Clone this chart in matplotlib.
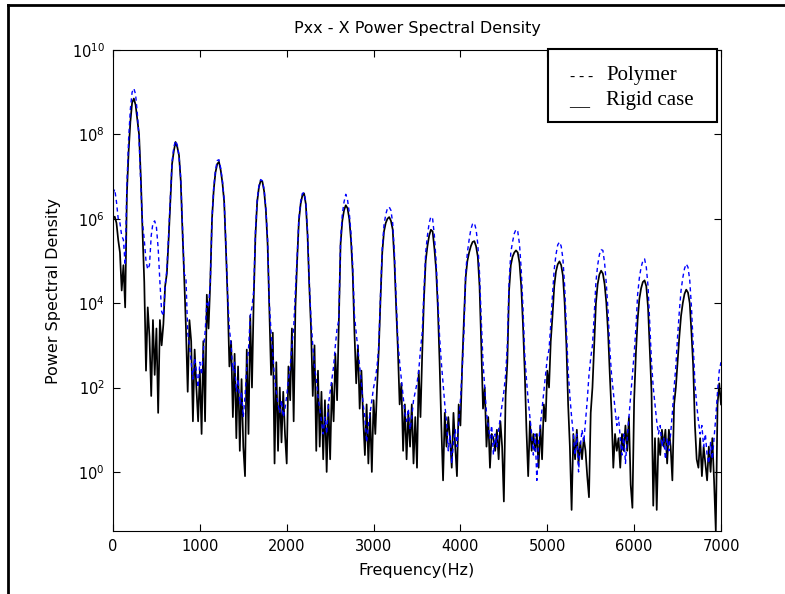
import numpy as np
import matplotlib.pyplot as plt
from matplotlib.ticker import NullLocator
from matplotlib.lines import Line2D

# PSD bins every 20 Hz, 0 .. 7000 Hz
freq_hz = np.arange(0, 7001, 20)

# log10 of the PSD, ten bins (200 Hz) per row
rigid_log = [
    6.0, 6.05, 5.9, 5.5, 5.2, 4.3, 4.9, 3.9, 6.6, 7.6,
    8.3, 8.75, 8.85, 8.7, 8.35, 8.0, 7.0, 5.7, 4.5, 2.4,
    3.9, 3.2, 1.8, 3.6, 2.3, 3.4, 1.4, 3.6, 3.0, 3.5,
    4.4, 4.7, 5.5, 6.4, 7.3, 7.6, 7.82, 7.7, 7.5, 6.9,
    5.7, 4.6, 3.4, 1.9, 3.6, 3.1, 1.2, 2.9, 2.0, 1.2,
    2.4, 0.9, 3.1, 1.2, 4.2, 3.4, 4.5, 6.0, 6.7, 7.1,
    7.3, 7.35, 7.15, 6.85, 6.4, 5.3, 4.1, 2.5, 3.1, 1.3,
    2.8, 0.8, 2.5, 0.5, 2.2, 0.6, -0.1, 2.9, 0.9, 3.7,
    2.0, 4.1, 5.6, 6.4, 6.75, 6.9, 6.88, 6.65, 6.2, 5.4,
    3.8, 2.3, 3.3, 0.2, 2.6, 0.5, 2.0, 0.7, 1.9, 0.9,
    0.2, 2.5, 1.7, 3.4, 1.2, 3.9, 5.0, 5.95, 6.35, 6.55,
    6.6, 6.35, 5.6, 4.4, 3.4, 1.8, 3.0, 0.5, 2.4, 0.6,
    1.9, 0.3, 1.7, 0.0, 1.6, 0.3, 2.1, 1.2, 2.8, 1.7,
    3.5, 5.4, 5.95, 6.2, 6.32, 6.25, 6.0, 5.5, 4.7, 3.3,
    2.1, 3.0, 1.5, 2.4, 1.3, 0.4, 1.6, 0.2, 1.4, 0.0,
    1.7, 0.9, 2.0, 2.9, 4.1, 5.2, 5.7, 5.9, 6.0, 6.04,
    5.95, 5.75, 5.0, 3.9, 2.9, 1.6, 2.1, 0.5, 1.6, 0.3,
    1.4, 0.6, 1.6, 0.2, 1.3, 0.1, 2.4, 1.3, 2.8, 4.1,
    5.0, 5.35, 5.6, 5.74, 5.7, 5.3, 4.8, 3.9, 2.6, 1.1,
    -0.2, 1.4, 0.6, 1.3, 0.8, 0.1, 1.4, 0.6, -0.1, 1.6,
    1.1, 2.5, 3.6, 4.6, 5.0, 5.2, 5.35, 5.45, 5.47, 5.35,
    5.1, 4.4, 3.0, 1.5, 2.0, 0.6, 1.3, 0.1, 0.9, 0.8,
    0.5, 1.0, 0.3, 1.2, 0.6, -0.7, 1.8, 2.6, 4.3, 4.9,
    5.1, 5.2, 5.25, 5.2, 4.95, 4.4, 3.5, 2.4, 1.0, -0.1,
    1.2, 0.5, 0.9, 0.5, 0.9, 0.1, 1.1, 0.3, 1.6, 1.2,
    2.4, 2.0, 3.1, 3.7, 4.4, 4.75, 4.92, 4.99, 4.9, 4.65,
    4.0, 3.0, 1.6, 0.6, -0.9, 0.9, 0.3, 1.0, 0.2, 0.7,
    0.3, 0.8, 0.5, -0.1, -0.6, 1.4, 2.0, 3.0, 4.0, 4.45,
    4.68, 4.77, 4.7, 4.45, 4.0, 3.3, 2.3, 1.4, 0.1, 0.9,
    0.5, 0.8, 0.1, 0.9, 0.5, 1.1, 0.5, 1.3, -0.3, -0.85,
    1.7, 2.8, 3.6, 4.1, 4.35, 4.5, 4.54, 4.4, 3.9, 2.9,
    1.9, -0.8, 0.8, -0.9, 0.8, 0.4, 1.0, 0.6, 1.0, 0.2,
    1.0, 0.6, -0.2, 1.6, 2.0, 2.6, 3.2, 3.7, 4.0, 4.22,
    4.32, 4.25, 4.0, 3.3, 2.5, 1.1, 0.3, 0.1, 0.8, -0.1,
    0.6, 0.2, -0.2, 0.6, 0.0, 0.8, -0.2, -1.4, 1.6, 2.1,
    1.6,
]

polymer_log = [
    6.6, 6.7, 6.4, 6.0, 5.9, 5.6, 5.5, 4.9, 6.8, 7.9,
    8.6, 9.0, 9.09, 8.95, 8.5, 7.9, 6.8, 5.9, 5.5, 5.0,
    4.8, 4.9, 5.6, 5.9, 5.95, 5.8, 5.3, 4.5, 3.8, 3.7,
    4.4, 4.8, 5.6, 6.5, 7.35, 7.7, 7.85, 7.75, 7.5, 6.95,
    5.8, 4.7, 4.6, 3.3, 3.0, 2.6, 2.2, 2.7, 2.4, 2.0,
    2.6, 2.3, 2.9, 3.3, 4.0, 3.9, 4.5, 6.0, 6.75, 7.15,
    7.38, 7.4, 7.2, 6.9, 6.45, 5.4, 4.2, 3.4, 3.0, 2.4,
    2.6, 1.9, 2.2, 1.6, 1.9, 1.3, 1.8, 2.5, 2.9, 3.7,
    3.9, 4.3, 5.7, 6.45, 6.78, 6.93, 6.9, 6.7, 6.25, 5.5,
    4.0, 3.3, 2.8, 2.2, 1.9, 1.6, 1.4, 1.7, 1.3, 1.5,
    1.8, 2.2, 2.5, 3.0, 3.4, 4.3, 5.1, 6.0, 6.4, 6.6,
    6.62, 6.4, 5.7, 4.5, 3.6, 3.0, 2.5, 2.2, 1.8, 1.5,
    1.2, 0.9, 1.3, 0.9, 1.6, 1.9, 2.2, 2.5, 3.0, 3.4,
    3.6, 5.5, 6.1, 6.4, 6.58, 6.45, 6.15, 5.65, 4.9, 3.7,
    3.3, 2.9, 2.5, 2.1, 1.6, 1.3, 0.7, 1.1, 1.4, 1.7,
    2.0, 2.2, 2.5, 3.0, 4.2, 5.3, 5.85, 6.1, 6.25, 6.28,
    6.2, 5.9, 5.2, 4.1, 3.1, 2.6, 2.2, 1.8, 1.4, 1.2,
    1.5, 1.0, 1.3, 1.7, 1.9, 2.1, 2.4, 2.9, 3.3, 4.3,
    5.2, 5.6, 5.9, 6.05, 6.0, 5.6, 5.0, 4.1, 3.2, 2.6,
    2.1, 1.6, 1.2, 0.5, 0.9, 0.2, 0.7, 1.0, 0.6, 1.2,
    1.7, 2.4, 3.3, 4.7, 5.2, 5.5, 5.75, 5.88, 5.9, 5.75,
    5.4, 4.7, 3.6, 2.6, 2.0, 1.4, 1.1, 0.8, 1.1, 0.4,
    0.9, 0.6, 1.0, 1.3, 1.6, 1.9, 2.3, 3.0, 4.5, 5.2,
    5.45, 5.65, 5.75, 5.7, 5.4, 4.8, 3.9, 2.8, 2.2, 1.7,
    1.3, 0.9, 0.4, 0.9, -0.2, 0.7, 1.1, 1.5, 1.9, 2.3,
    2.7, 2.9, 3.5, 4.2, 4.8, 5.15, 5.38, 5.45, 5.35, 5.05,
    4.4, 3.4, 2.4, 1.8, 1.3, 0.9, 0.4, 0.9, 0.0, 0.6,
    1.0, 0.7, 1.2, 1.7, 2.3, 2.7, 3.0, 3.7, 4.5, 4.9,
    5.15, 5.27, 5.25, 4.95, 4.45, 3.8, 2.9, 2.3, 1.9, 1.5,
    1.1, 1.3, 0.8, 0.4, 0.9, 0.2, 0.8, 1.3, 1.8, 2.3,
    2.8, 3.4, 4.2, 4.6, 4.85, 5.0, 5.05, 4.85, 4.4, 3.5,
    2.6, 2.0, 1.6, 1.2, 0.9, 1.1, 0.6, 0.8, 0.3, 0.8,
    0.5, 0.9, 1.4, 2.0, 2.5, 3.2, 3.8, 4.3, 4.6, 4.82,
    4.93, 4.85, 4.55, 3.9, 3.0, 2.1, 1.6, 1.2, 0.9, 1.1,
    0.6, 0.9, 0.4, 0.2, 0.7, 0.3, 0.8, 1.3, 1.9, 2.4,
    2.6,
]

rigid = 10.0 ** np.array(rigid_log)
polymer = 10.0 ** np.array(polymer_log)

W, H = 785, 594
fig = plt.figure(figsize=(W / 100, H / 100), dpi=100)
ax = fig.add_axes([113 / W, 63 / H, 608 / W, 481 / H])

ax.plot(freq_hz, rigid, color='black', lw=1.25)
ax.plot(freq_hz, polymer, color='blue', lw=1.0, ls=(0, (3, 2.5)))

ax.set_yscale('log')
ax.set_xlim(0, 7000)
ax.set_ylim(10 ** -1.4, 1e10)
ax.set_xticks(np.arange(0, 7001, 1000))
ax.set_yticks([1e0, 1e2, 1e4, 1e6, 1e8, 1e10])
ax.yaxis.set_minor_locator(NullLocator())
ax.tick_params(direction='in', length=5, width=0.8, top=True, right=True,
               labelsize=10.5, pad=6)
for s in ax.spines.values():
    s.set_linewidth(0.8)

ax.set_title('Pxx - X Power Spectral Density', fontsize=11.5, pad=12)
ax.set_xlabel('Frequency(Hz)', fontsize=11.5, labelpad=6)
ax.set_ylabel('Power Spectral Density', fontsize=11.5, labelpad=8)

# text box used as a legend in the original
box = plt.Rectangle((548 / W, 1 - 122 / H), 169 / W, 73 / H, transform=fig.transFigure,
                    fill=True, facecolor='white', edgecolor='black', lw=1.5, zorder=5)
fig.patches.append(box)
serif = dict(family='Liberation Serif', fontsize=15, va='baseline', zorder=6)
fig.text(570 / W, 1 - 80 / H, '- - -', fontsize=11, family='Liberation Serif',
         va='baseline', zorder=6)
fig.text(606 / W, 1 - 80 / H, 'Polymer', **serif)
fig.text(569 / W, 1 - 105 / H, '__', **serif)
fig.text(606 / W, 1 - 105 / H, 'Rigid case', **serif)

# page frame on the left and top
fig.lines.append(Line2D([8 / W, 8 / W], [0, 1 - 5 / H], transform=fig.transFigure,
                        color='black', lw=2))
fig.lines.append(Line2D([8 / W, 1], [1 - 5 / H, 1 - 5 / H], transform=fig.transFigure,
                        color='black', lw=2))

fig.savefig('out.png', dpi=100)
